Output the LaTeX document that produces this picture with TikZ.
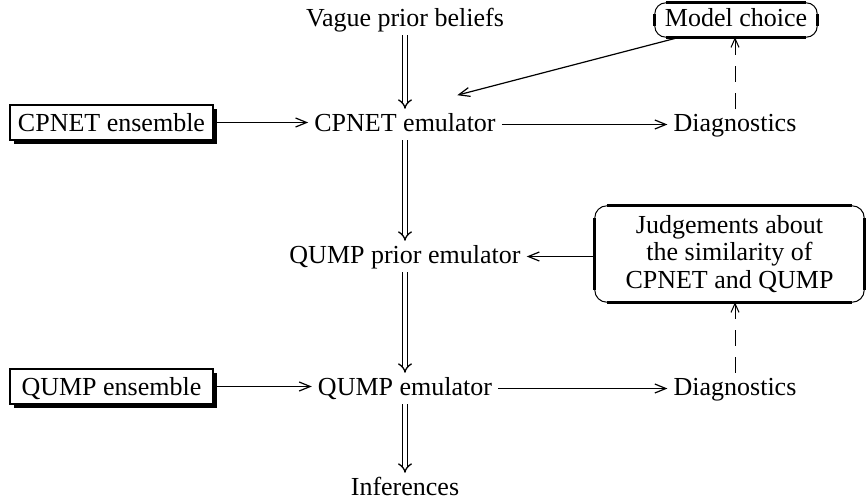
\documentclass[tikz,border=0pt]{standalone}
\usepackage{fontspec}
\setmainfont{Liberation Serif}
\usetikzlibrary{arrows.meta,shadows,calc}
\newcommand\myoval[2]{%
  \draw[line width=1pt, rounded corners=#2] (#1.north west) rectangle (#1.south east);
  \draw[line width=2.8pt]
    ($(#1.north west)+(#2,0)$) -- ($(#1.north east)+(-#2,0)$)
    ($(#1.south west)+(#2,0)$) -- ($(#1.south east)+(-#2,0)$)
    ($(#1.north west)+(0,#2)$) -- ($(#1.south west)+(0,-#2)$)
    ($(#1.north east)+(0,#2)$) -- ($(#1.south east)+(0,-#2)$);
}
\begin{document}
\begin{tikzpicture}[x=1pt,y=-1pt,
  txt/.style={font=\fontsize{26}{27.5}\selectfont},
  lbl/.style={txt, inner xsep=6pt, inner ysep=4pt, text height=18pt, text depth=5pt, anchor=base},
  shbox/.style={lbl, draw, line width=1.2pt, fill=white, inner xsep=6pt, inner ysep=8pt,
    text depth=1pt, minimum width=203pt,
    drop shadow={shadow xshift=3.5pt, shadow yshift=-3.5pt, opacity=1, fill=black}},
  arr/.style={line width=1.2pt, -{Straight Barb[length=11pt,width=9pt]}},
  dsh/.style={line width=1pt, dash pattern=on 16pt off 11pt, -{Straight Barb[length=9pt,width=8pt]}},
  dbl/.style={double, double distance=3.5pt, line width=1.3pt, -{Implies}}
]
\useasboundingbox (0,0) rectangle (867,501);

\node[lbl] (V) at (405,26) {Vague prior beliefs};
\node[lbl] (CE) at (405,131) {CPNET emulator};
\node[lbl] (D1) at (735,131) {Diagnostics};
\node[shbox] (CN) at (111.5,131) {CPNET ensemble};
\node[lbl, anchor=center, minimum width=162pt, minimum height=34pt] (M) at (736,20) {Model choice};
\myoval{M}{11}

\node[lbl] (QP) at (405,263) {QUMP prior emulator};
\node[txt, anchor=center, align=center, inner sep=0pt, minimum width=269pt, minimum height=96pt] (J) at (729.5,254)
  {Judgements about\\the similarity of\\CPNET and QUMP};
\myoval{J}{12}

\node[lbl] (QE) at (405,395) {QUMP emulator};
\node[lbl] (D2) at (735,395) {Diagnostics};
\node[shbox] (QN) at (111.5,395) {QUMP ensemble};
\node[lbl] (I) at (405,495) {Inferences};

\draw[arr, shorten <=3.5pt] (CN.east) -- (CN.east -| CE.west);
\draw[arr] (CE.east) -- (D1.west);
\draw[arr, shorten <=3.5pt] (QN.east) -- (QN.east -| QE.west);
\draw[arr] (QE.east) -- (D2.west);
\draw[arr] (J.west |- QP.east) -- (QP.east);
\draw[arr, shorten >=54pt] (M.197) -- (CE.north);
\draw[dsh] (D1.north) -- (D1.north |- M.south);
\draw[dsh] (D2.north) -- (D2.north |- J.south);

\draw[dbl] (V.south) -- (CE.north);
\draw[dbl] (CE.south) -- (QP.north);
\draw[dbl] (QP.south) -- (QE.north);
\draw[dbl] (QE.south) -- (I.north);
\end{tikzpicture}
\end{document}
